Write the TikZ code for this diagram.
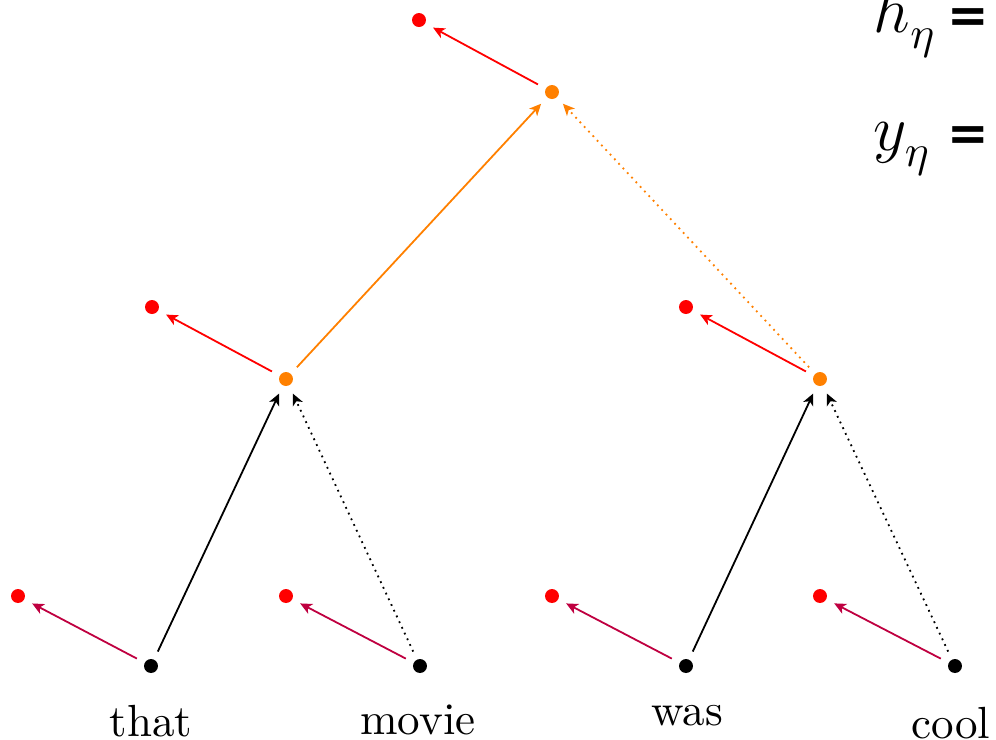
\documentclass[tikz,border=0pt]{standalone}
\usepackage{fontspec}
\newfontfamily\eqfont{DejaVu Sans}
\usetikzlibrary{arrows.meta}
\begin{document}
\begin{tikzpicture}[x=0.222pt,y=-0.222pt,
  dot/.style={circle,fill=#1,inner sep=0pt,minimum size=3.1pt,outer sep=2pt},
  dot/.default=black,
  link/.style={-{Stealth[length=2.6pt,width=2.4pt,inset=0.7pt]}},
  word/.style={anchor=north,inner sep=0pt},
  eq/.style={anchor=base west,inner sep=0pt,font=\Large},
  eqsign/.style={anchor=base west,inner sep=0pt,font=\eqfont\bfseries\fontsize{11}{13}\selectfont},
]
\useasboundingbox (0,0) rectangle (996,739);
\clip (0,0) rectangle (996,739);

% leaves
\node[dot] (lthat)  at (151,666) {};
\node[dot] (lmovie) at (420,666) {};
\node[dot] (lwas)   at (686,666) {};
\node[dot] (lcool)  at (955,666) {};

\node[word] (wthat)  at (151,704) {that};
\node[word] (wmovie) at (418,704) {movie};
\node[word] (wwas)   at (687,704) {was};
\node[word] (wcool)  at (951,706) {cool};

% leaf outputs
\node[dot=red] (othat)  at (18,596) {};
\node[dot=red] (omovie) at (286,596) {};
\node[dot=red] (owas)   at (552,596) {};
\node[dot=red] (ocool)  at (820,596) {};

% internal nodes and their outputs
\node[dot=orange] (m1) at (286,379) {};
\node[dot=orange] (m2) at (820,379) {};
\node[dot=red] (om1) at (152,307) {};
\node[dot=red] (om2) at (686,307) {};

\node[dot=orange] (root) at (552,92) {};
\node[dot=red] (oroot) at (419,20) {};

% outputs of the leaves
\draw[link,purple] (lthat)  -- (othat);
\draw[link,purple] (lmovie) -- (omovie);
\draw[link,purple] (lwas)   -- (owas);
\draw[link,purple] (lcool)  -- (ocool);

% composition: left child solid, right child dotted
\draw[link] (lthat) -- (m1);
\draw[link,densely dotted] (lmovie) -- (m1);
\draw[link] (lwas) -- (m2);
\draw[link,densely dotted] (lcool) -- (m2);

\draw[link,orange] (m1) -- (root);
\draw[link,orange,densely dotted] (m2) -- (root);

% outputs of the internal nodes
\draw[link,red] (m1) -- (om1);
\draw[link,red] (m2) -- (om2);
\draw[link,red] (root) -- (oroot);

% equations
\node[eq] (h) at (873,32) {$h^{}_{\eta}$};
\node[eqsign] (heq) at (947,32) {=};
\node[eq] (y) at (873,150) {$y^{}_{\eta}$};
\node[eqsign] (yeq) at (947,150) {=};
\end{tikzpicture}
\end{document}
